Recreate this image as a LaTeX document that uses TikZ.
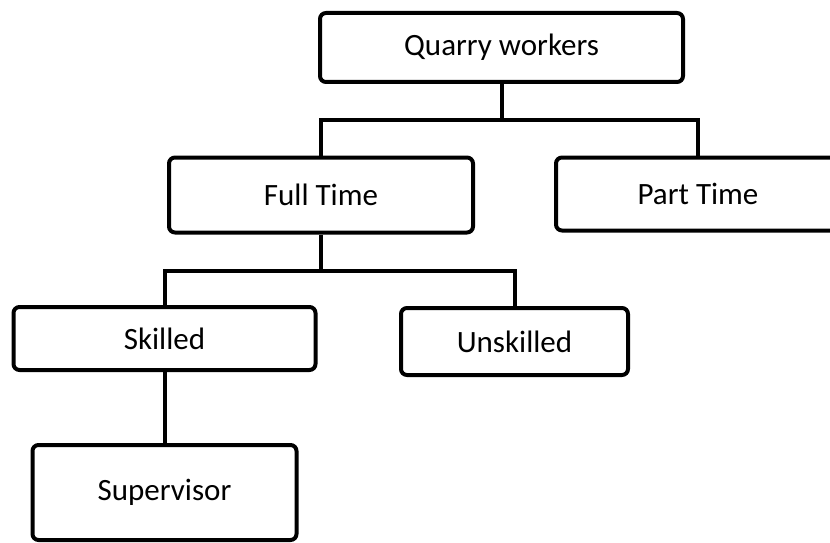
\documentclass[tikz,border=0pt]{standalone}
\usepackage{fontspec}
\setmainfont{Carlito}
\begin{document}
\begin{tikzpicture}[x=1pt,y=-1pt,
  box/.style={draw=black,line width=4pt,rounded corners=6pt,fill=white,inner sep=0pt,
    font=\fontsize{31}{37}\selectfont,text=black},
  conn/.style={draw=black,line width=4pt}]
\useasboundingbox (0,0) rectangle (830,543);
\clip (0,0) rectangle (830,543);
\fill[white] (0,0) rectangle (830,543);
\node[box,minimum width=363pt,minimum height=69pt] (q) at (501.5,47.5) {Quarry workers};
\node[box,minimum width=304pt,minimum height=75pt] (ft) at (321,195) {Full Time};
\node[box,minimum width=284pt,minimum height=73pt] (pt) at (698,194) {Part Time};
\node[box,minimum width=302pt,minimum height=63pt] (sk) at (164.5,338.5) {Skilled};
\node[box,minimum width=227pt,minimum height=67pt] (us) at (514.5,341.5) {Unskilled};
\node[box,minimum width=264pt,minimum height=95pt] (sv) at (164.5,492.5) {Supervisor};
\coordinate (b1) at (501.5,120);
\coordinate (b2) at (321,271);
\draw[conn] (q.south) -- (b1);
\draw[conn] (b1) -| (ft.north);
\draw[conn] (b1) -| (pt.north);
\draw[conn] (ft.south) -- (b2);
\draw[conn] (b2) -| (sk.north);
\draw[conn] (b2) -| (us.north);
\draw[conn] (sk.south) -- (sv.north);
\end{tikzpicture}
\end{document}
